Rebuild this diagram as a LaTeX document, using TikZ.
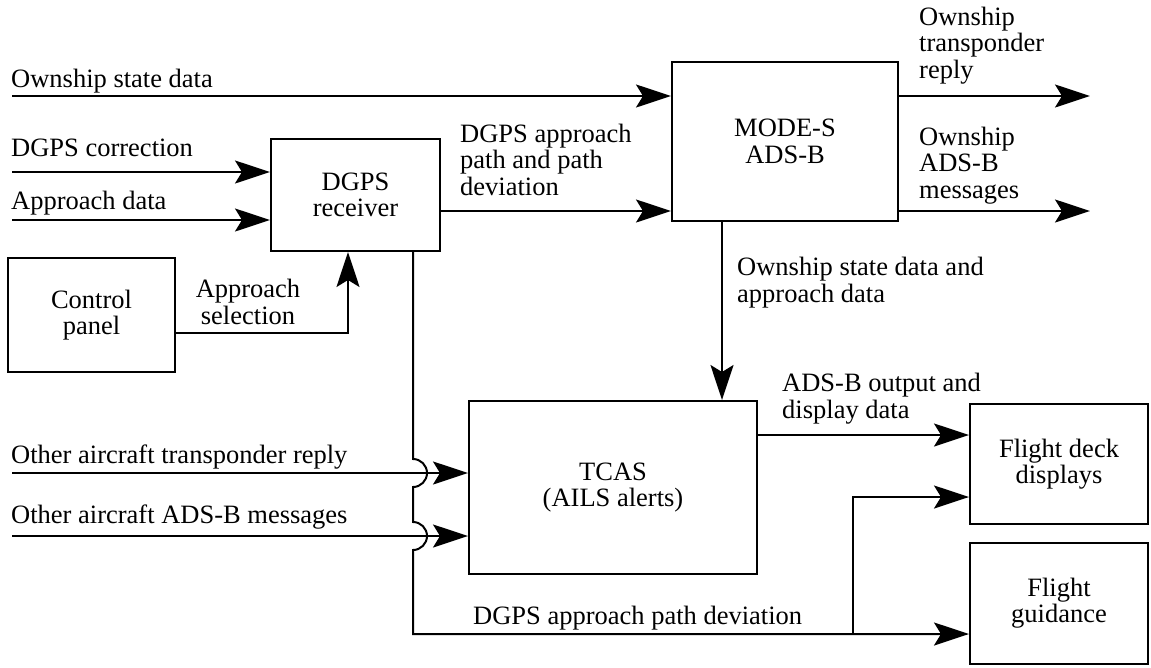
\documentclass[tikz,border=0pt]{standalone}
\usepackage{fontspec}
\setmainfont{Liberation Serif}
\usetikzlibrary{arrows.meta}
\newcommand{\dfont}{\fontsize{26.5}{26.3}\selectfont}
\begin{document}
\begin{tikzpicture}[x=1pt,y=-1pt,
  every node/.style={font=\dfont},
  box/.style={draw,line width=2pt,inner sep=0pt,align=center},
  lbl/.style={anchor=base west,inner sep=0pt,align=left},
  clbl/.style={anchor=base,inner sep=0pt,align=center},
  arr/.style={line width=2pt,-{Stealth[length=35pt,width=23pt,inset=7pt]}}]
\useasboundingbox (0,0) rectangle (1151,667);
% boxes
\node[box,minimum width=169pt,minimum height=112pt] (dgps) at (355.5,195) {DGPS\\receiver};
\node[box,minimum width=226pt,minimum height=159pt] (modes) at (785,141.5) {MODE-S\\ADS-B};
\node[box,minimum width=167pt,minimum height=114pt] (ctrl) at (91.5,315) {Control\\panel};
\node[box,minimum width=288pt,minimum height=173pt] (tcas) at (613,487.5) {TCAS\\(AILS alerts)};
\node[box,minimum width=178pt,minimum height=120pt] (fdd) at (1059,464) {Flight deck\\displays};
\node[box,minimum width=178pt,minimum height=121pt] (fg) at (1059,603.5) {Flight\\guidance};
% labels (base anchor = baseline of the last line)
\node[lbl] (t1) at (11,87) {Ownship state data};
\node[lbl] (t2) at (11,156) {DGPS correction};
\node[lbl] (t3) at (11,209) {Approach data};
\node[lbl] (t4) at (460,195) {DGPS approach\\path and path\\deviation};
\node[clbl] (t5) at (248,324) {Approach\\selection};
\node[lbl] (t6) at (919,78) {Ownship\\transponder\\reply};
\node[lbl] (t7) at (919,198) {Ownship\\ADS-B\\messages};
\node[lbl] (t8) at (737,302) {Ownship state data and\\approach data};
\node[lbl] (t9) at (782,418) {ADS-B output and\\display data};
\node[lbl] (t10) at (11,463) {Other aircraft transponder reply};
\node[lbl] (t11) at (11,523) {Other aircraft ADS-B messages};
\node[lbl] (t12) at (473,624) {DGPS approach path deviation};
% inputs
\coordinate (in1) at (12,96);
\coordinate (in2) at (12,172);
\coordinate (in3) at (12,220);
\coordinate (in4) at (12,473);
\coordinate (in5) at (12,536);
\draw[arr] (in1) -- (in1 -| modes.west);
\draw[arr] (in2) -- (in2 -| dgps.west);
\draw[arr] (in3) -- (in3 -| dgps.west);
\draw[arr] (in4) -- (in4 -| tcas.west);
\draw[arr] (in5) -- (in5 -| tcas.west);
% dgps to modes
\coordinate (d1) at ([yshift=-16pt]dgps.east);
\draw[arr] (d1) -- (d1 -| modes.west);
% control to dgps
\coordinate (c1) at ([yshift=-18pt]ctrl.east);
\coordinate (c2) at ([xshift=-7.5pt]dgps.south);
\draw[arr] (c1) -| (c2);
% outputs
\coordinate (o1) at (1090,96);
\coordinate (o2) at (1090,211);
\draw[arr] (o1 -| modes.east) -- (o1);
\draw[arr] (o2 -| modes.east) -- (o2);
% modes to tcas
\coordinate (m1) at ([xshift=-63pt]modes.south);
\draw[arr] (m1) -- (m1 |- tcas.north);
% tcas to displays
\coordinate (e1) at ([yshift=52.5pt]tcas.east);
\draw[arr] (e1) -- (e1 -| fdd.west);
% dgps deviation path with hops
\coordinate (v0) at ([xshift=57.5pt]dgps.south);
\coordinate (bl) at (413,634);
\draw[arr] (v0) -- (413,459) arc[start angle=90,end angle=-90,radius=14pt]
  -- (413,522) arc[start angle=90,end angle=-90,radius=14pt]
  -- (bl) -- (bl -| fg.west);
\coordinate (br) at (853,634);
\coordinate (f1) at ([yshift=-33pt]fdd.west);
\draw[arr] (br) |- (f1);
\end{tikzpicture}
\end{document}
